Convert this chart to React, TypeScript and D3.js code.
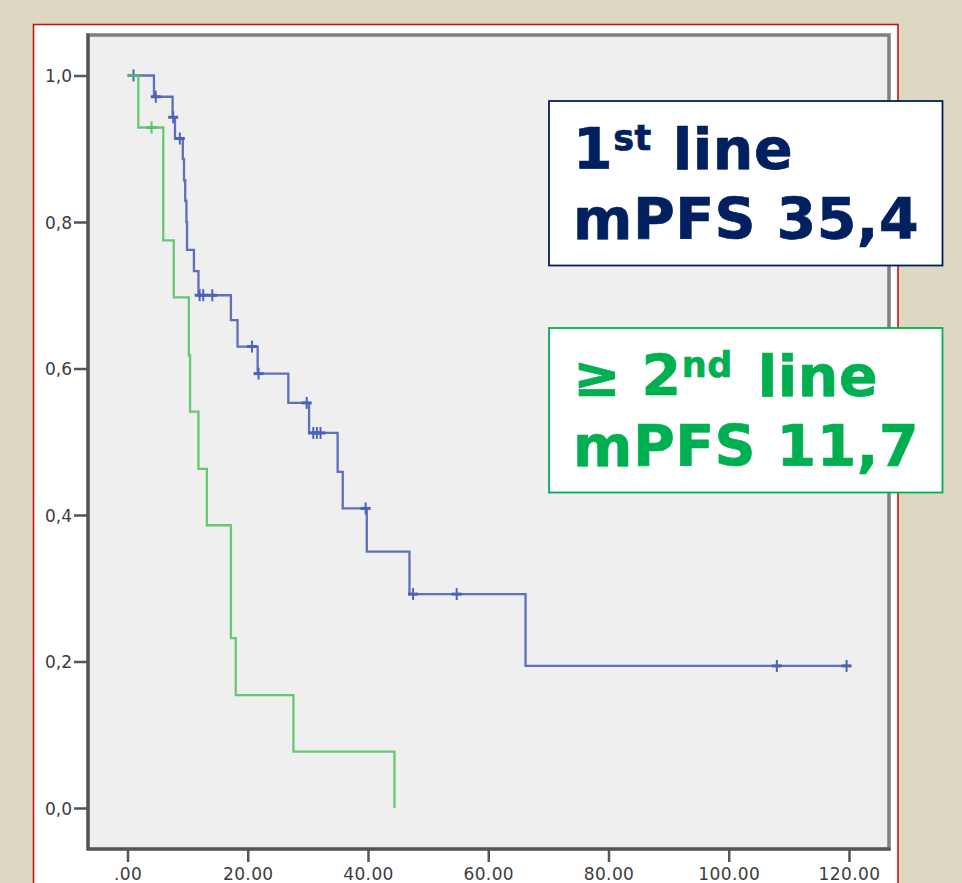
import React, { useEffect, useRef } from 'react';
import * as d3 from 'd3';

// Kaplan-Meier step points (months, survival proportion)
const firstLineTimes = [0, 4.4, 7.5, 7.9, 9.2, 9.4, 9.6, 9.8, 9.9, 11.05, 11.8, 17.2, 18.3, 21.65, 26.75, 30.2, 34.95, 35.8, 39.8, 46.9, 66.2, 119.6];
const firstLineSurv = [1.0, 0.971, 0.943, 0.914, 0.886, 0.857, 0.829, 0.8, 0.762, 0.733, 0.7, 0.666, 0.63, 0.593, 0.553, 0.512, 0.459, 0.409, 0.35, 0.292, 0.194, 0.194];
const firstLineCensTimes = [1, 4.7, 7.6, 8.7, 12.0, 12.6, 14.1, 20.7, 21.8, 29.8, 30.9, 31.5, 32.1, 39.6, 47.5, 54.75, 108, 119.6];
const firstLineCensSurv = [1.0, 0.971, 0.943, 0.914, 0.7, 0.7, 0.7, 0.63, 0.593, 0.553, 0.512, 0.512, 0.512, 0.409, 0.292, 0.292, 0.194, 0.194];

const secondLineTimes = [0, 1.8, 5.95, 7.7, 10.2, 10.4, 11.8, 13.2, 17.2, 18.0, 27.6, 44.4];
const secondLineSurv = [1.0, 0.929, 0.775, 0.697, 0.618, 0.541, 0.463, 0.386, 0.232, 0.154, 0.077, 0.0];
const secondLineCensTimes = [4.0];
const secondLineCensSurv = [0.929];

const xTicks = [0, 20, 40, 60, 80, 100, 120];
const yTicks = [0, 0.2, 0.4, 0.6, 0.8, 1.0];

const NAVY = '#002060';
const GREEN = '#00b050';

const App = () => {
  const ref = useRef(null);

  useEffect(() => {
    d3.select(ref.current).selectAll('*').remove();
    const svg = d3.select(ref.current);
    const width = 962;
    const height = 883;

    // page background and red-bordered panel
    svg.append('rect').attr('width', width).attr('height', height).attr('fill', '#ded8c3');
    svg.append('rect')
      .attr('x', 33.5).attr('y', 24.5).attr('width', 864.5).attr('height', 900)
      .attr('fill', '#ffffff').attr('stroke', '#cc1111').attr('stroke-width', 1.6);

    const plot = { left: 88, right: 889, top: 35, bottom: 849 };

    const x = d3.scaleLinear().domain([0, 120]).range([127.5, 849]);
    const y = d3.scaleLinear().domain([0, 1]).range([808, 75.5]);

    // plot area
    svg.append('rect')
      .attr('x', plot.left).attr('y', plot.top)
      .attr('width', plot.right - plot.left).attr('height', plot.bottom - plot.top)
      .attr('fill', '#efefef').attr('stroke', '#808080').attr('stroke-width', 3.5);

    // y axis
    const yAxis = d3.axisLeft(y).tickValues(yTicks).tickSize(14).tickPadding(2)
      .tickFormat(d => d3.format('.1f')(d).replace('.', ','));
    const gy = svg.append('g').attr('transform', `translate(${plot.left},0)`).call(yAxis);
    gy.select('path.domain').remove();
    gy.selectAll('line').attr('stroke', '#555').attr('stroke-width', 2.5);
    gy.selectAll('text')
      .attr('fill', '#3c3c3c').attr('font-family', 'DejaVu Sans, sans-serif')
      .attr('font-size', '17px').attr('dy', '0.36em');

    // x axis
    const xAxis = d3.axisBottom(x).tickValues(xTicks).tickSize(13).tickPadding(6)
      .tickFormat(d => d3.format('.2f')(d).replace(/^0/, ''));
    const gx = svg.append('g').attr('transform', `translate(0,${plot.bottom})`).call(xAxis);
    gx.select('path.domain').remove();
    gx.selectAll('line').attr('stroke', '#555').attr('stroke-width', 2.5);
    gx.selectAll('text')
      .attr('fill', '#3c3c3c').attr('font-family', 'DejaVu Sans, sans-serif')
      .attr('font-size', '17px').attr('letter-spacing', '0.4px');

    // darker left and bottom axis lines
    svg.append('path')
      .attr('d', `M${plot.left},${plot.top - 1.5}V${plot.bottom}H${plot.right + 1.5}`)
      .attr('fill', 'none').attr('stroke', '#555').attr('stroke-width', 3);

    const line = d3.line()
      .x(d => x(d[0]))
      .y(d => y(d[1]))
      .curve(d3.curveStepAfter);

    const curves = [
      { t: firstLineTimes, s: firstLineSurv, ct: firstLineCensTimes, cs: firstLineCensSurv, color: '#4b62b8' },
      { t: secondLineTimes, s: secondLineSurv, ct: secondLineCensTimes, cs: secondLineCensSurv, color: '#55c465' }
    ];

    curves.forEach(c => {
      const pts = c.t.map((t, i) => [t, c.s[i]]);
      svg.append('path')
        .datum(pts)
        .attr('fill', 'none')
        .attr('stroke', c.color)
        .attr('stroke-opacity', 0.9)
        .attr('stroke-width', 2.3)
        .attr('d', line);

      const cens = c.ct.map((t, i) => [t, c.cs[i]]);
      const g = svg.append('g').attr('stroke', c.color).attr('stroke-width', 2);
      g.selectAll('.cv').data(cens).enter().append('line')
        .attr('x1', d => x(d[0])).attr('x2', d => x(d[0]))
        .attr('y1', d => y(d[1]) - 6).attr('y2', d => y(d[1]) + 6);
      g.selectAll('.ch').data(cens).enter().append('line')
        .attr('x1', d => x(d[0]) - 5).attr('x2', d => x(d[0]) + 5)
        .attr('y1', d => y(d[1])).attr('y2', d => y(d[1]))
        .attr('stroke-width', 3);
    });

    // legend boxes
    const boxes = [
      { y0: 101, lines: [['1', 'st', 'line'], ['mPFS 35,4']], gap: 21, color: NAVY },
      { y0: 328, lines: [['\u2265 2', 'nd', 'line'], ['mPFS 11,7']], gap: 25, color: GREEN }
    ];
    boxes.forEach(b => {
      svg.append('rect')
        .attr('x', 549).attr('y', b.y0).attr('width', 393.5).attr('height', 164.5)
        .attr('fill', '#fff').attr('stroke', b.color).attr('stroke-width', 1.8);
      b.lines.forEach((ln, i) => {
        const t = svg.append('text')
          .attr('x', 573).attr('y', b.y0 + 68 + i * 70)
          .attr('font-family', 'DejaVu Sans, Verdana, sans-serif')
          .attr('font-weight', 'bold').attr('font-size', '57px')
          .attr('letter-spacing', '0.5px')
          .attr('fill', b.color).attr('stroke', b.color).attr('stroke-width', 0.7);
        t.append('tspan').text(ln[0]);
        if (ln.length > 1) {
          t.append('tspan').attr('font-size', '35px').attr('dy', -19).text(ln[1]);
          t.append('tspan').attr('dy', 19).attr('dx', b.gap).text(ln[2]);
        }
      });
    });
  }, []);

  return (
    <svg ref={ref} width="962" height="883" style={{ position: 'absolute', left: 0, top: 0 }}></svg>
  );
};

export default App;
